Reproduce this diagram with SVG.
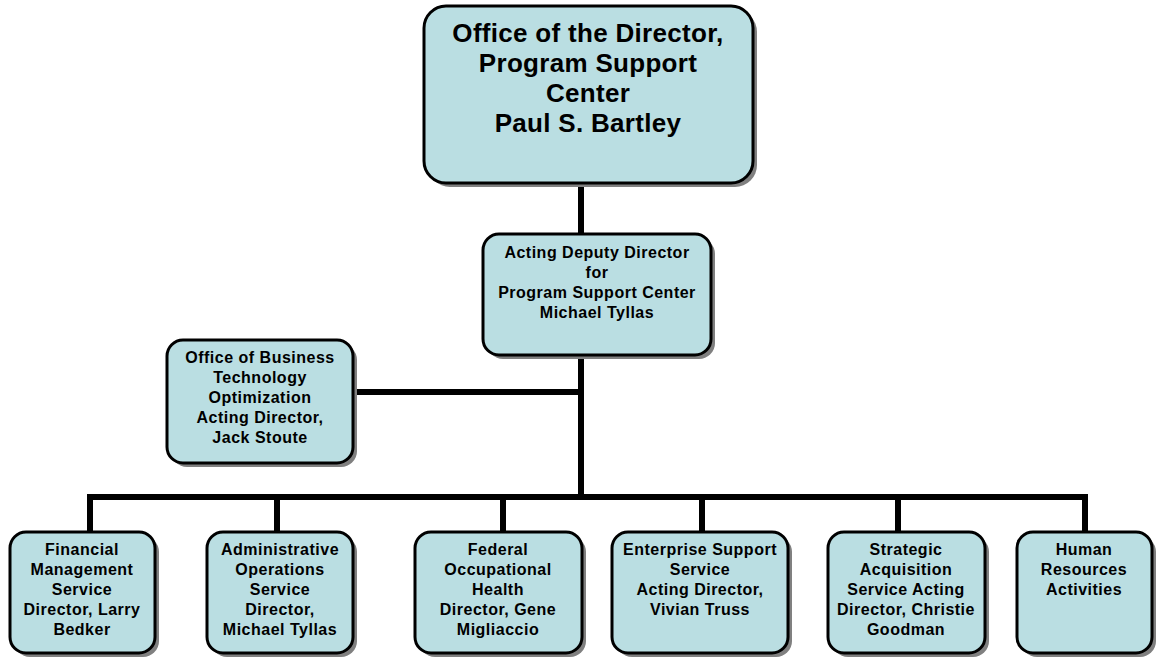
<svg xmlns="http://www.w3.org/2000/svg" width="1158" height="660" viewBox="0 0 1158 660">
<style>
.box{fill:#BADEE2;stroke:#000;stroke-width:3}
.sh{fill:#808080}
.t{font-family:"Liberation Sans",Arial,sans-serif;font-weight:bold;font-size:16px;letter-spacing:0.5px;text-anchor:middle;fill:#000}
.big{font-size:26px;letter-spacing:0.3px}
.c{stroke:#000;stroke-width:6;fill:none}
</style>
<rect width="1158" height="660" fill="#fff"/>
<g id="connectors">
<line class="c" x1="581" y1="182" x2="581" y2="234"/>
<line class="c" x1="581" y1="355" x2="581" y2="500"/>
<line class="c" x1="352" y1="392" x2="581" y2="392"/>
<polyline class="c" points="90,532 90,497 1085,497 1085,532"/>
<line class="c" x1="277" y1="497" x2="277" y2="532"/>
<line class="c" x1="503" y1="497" x2="503" y2="532"/>
<line class="c" x1="702" y1="497" x2="702" y2="532"/>
<line class="c" x1="898" y1="497" x2="898" y2="532"/>
</g>
<g id="director">
<rect class="sh" x="428" y="10" width="329" height="177" rx="22"/>
<rect class="box" x="424" y="6" width="329" height="177" rx="22"/>
<text class="t big" x="588" y="42">Office of the Director,</text>
<text class="t big" x="588" y="72">Program Support</text>
<text class="t big" x="588" y="102">Center</text>
<text class="t big" x="588" y="132">Paul S. Bartley</text>
</g>
<g id="deputy">
<rect class="sh" x="487" y="238" width="228" height="121" rx="16"/>
<rect class="box" x="483" y="234" width="228" height="121" rx="16"/>
<text class="t" x="597" y="258">Acting Deputy Director</text>
<text class="t" x="597" y="278">for</text>
<text class="t" x="597" y="298">Program Support Center</text>
<text class="t" x="597" y="318">Michael Tyllas</text>
</g>
<g id="obto">
<rect class="sh" x="171" y="344" width="186" height="123" rx="16"/>
<rect class="box" x="167" y="340" width="186" height="123" rx="16"/>
<text class="t" x="260" y="363">Office of Business</text>
<text class="t" x="260" y="383">Technology</text>
<text class="t" x="260" y="403">Optimization</text>
<text class="t" x="260" y="423">Acting Director,</text>
<text class="t" x="260" y="443">Jack Stoute</text>
</g>
<g id="fms">
<rect class="sh" x="14" y="536" width="145" height="121" rx="16"/>
<rect class="box" x="10" y="532" width="145" height="121" rx="16"/>
<text class="t" x="82" y="555">Financial</text>
<text class="t" x="82" y="575">Management</text>
<text class="t" x="82" y="595">Service</text>
<text class="t" x="82" y="615">Director, Larry</text>
<text class="t" x="82" y="635">Bedker</text>
</g>
<g id="aos">
<rect class="sh" x="211" y="536" width="146" height="121" rx="16"/>
<rect class="box" x="207" y="532" width="146" height="121" rx="16"/>
<text class="t" x="280" y="555">Administrative</text>
<text class="t" x="280" y="575">Operations</text>
<text class="t" x="280" y="595">Service</text>
<text class="t" x="280" y="615">Director,</text>
<text class="t" x="280" y="635">Michael Tyllas</text>
</g>
<g id="foh">
<rect class="sh" x="419" y="536" width="167" height="121" rx="16"/>
<rect class="box" x="415" y="532" width="167" height="121" rx="16"/>
<text class="t" x="498" y="555">Federal</text>
<text class="t" x="498" y="575">Occupational</text>
<text class="t" x="498" y="595">Health</text>
<text class="t" x="498" y="615">Director, Gene</text>
<text class="t" x="498" y="635">Migliaccio</text>
</g>
<g id="ess">
<rect class="sh" x="616" y="536" width="176" height="121" rx="16"/>
<rect class="box" x="612" y="532" width="176" height="121" rx="16"/>
<text class="t" x="700" y="555">Enterprise Support</text>
<text class="t" x="700" y="575">Service</text>
<text class="t" x="700" y="595">Acting Director,</text>
<text class="t" x="700" y="615">Vivian Truss</text>
</g>
<g id="sas">
<rect class="sh" x="832" y="536" width="157" height="121" rx="16"/>
<rect class="box" x="828" y="532" width="157" height="121" rx="16"/>
<text class="t" x="906" y="555">Strategic</text>
<text class="t" x="906" y="575">Acquisition</text>
<text class="t" x="906" y="595">Service Acting</text>
<text class="t" x="906" y="615">Director, Christie</text>
<text class="t" x="906" y="635">Goodman</text>
</g>
<g id="hr">
<rect class="sh" x="1021" y="536" width="135" height="121" rx="16"/>
<rect class="box" x="1017" y="532" width="135" height="121" rx="16"/>
<text class="t" x="1084" y="555">Human</text>
<text class="t" x="1084" y="575">Resources</text>
<text class="t" x="1084" y="595">Activities</text>
</g>
</svg>
